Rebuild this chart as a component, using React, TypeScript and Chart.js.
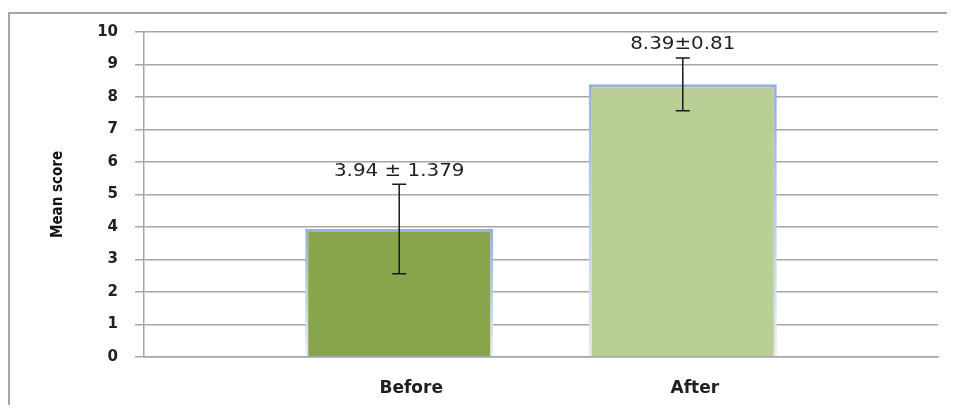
import React, { useEffect, useRef } from "react";
import { Chart, registerables } from "chart.js";

Chart.register(...registerables);

const categories = ["Before", "After"];
const meanScores = [3.94, 8.39];
const sdValues = [1.379, 0.81];
const valueLabels = ["3.94 ± 1.379", "8.39±0.81"];
const barColors = ["#89a54c", "#b9cf96"];
const yAxisTitle = "Mean score";

const errorBarPlugin = {
  id: "errorBars",
  afterDatasetsDraw(chart: any) {
    const { ctx, scales } = chart;
    const xs = scales.x;
    const ys = scales.y;
    ctx.save();
    categories.forEach((_, i) => {
      const x = xs.getPixelForValue(i + 1);
      const yTop = ys.getPixelForValue(meanScores[i] + sdValues[i]);
      const yBot = ys.getPixelForValue(meanScores[i] - sdValues[i]);
      ctx.strokeStyle = "#1a1a1a";
      ctx.lineWidth = 1.5;
      ctx.beginPath();
      ctx.moveTo(x, yTop);
      ctx.lineTo(x, yBot);
      ctx.moveTo(x - 7, yTop);
      ctx.lineTo(x + 7, yTop);
      ctx.moveTo(x - 7, yBot);
      ctx.lineTo(x + 7, yBot);
      ctx.stroke();
      ctx.save();
      ctx.translate(x, yTop - 13);
      ctx.scale(1.17, 1);
      ctx.fillStyle = "#1f1f1f";
      ctx.font = "17px 'DejaVu Sans', sans-serif";
      ctx.textAlign = "center";
      ctx.textBaseline = "middle";
      ctx.fillText(valueLabels[i], 0, 0);
      ctx.restore();
    });
    ctx.restore();
  },
};

export default function App() {
  const canvasRef = useRef<HTMLCanvasElement | null>(null);

  useEffect(() => {
    if (!canvasRef.current) return;
    const chart = new Chart(canvasRef.current, {
      type: "bar",
      data: {
        datasets: [
          {
            data: categories.map((_, i) => ({ x: i + 1, y: meanScores[i] })),
            backgroundColor: barColors,
            borderWidth: 3,
            borderSkipped: "bottom",
            borderColor: (c: any) => {
              const chart = c.chart;
              const area = chart.chartArea;
              if (!area || !c.parsed) return "#9bb5e0";
              const top = chart.scales.y.getPixelForValue(c.parsed.y);
              const g = chart.ctx.createLinearGradient(0, top, 0, area.bottom);
              g.addColorStop(0, "#96b0df");
              g.addColorStop(1, "#e4ebf6");
              return g;
            },
            categoryPercentage: 1,
            barPercentage: 0.663,
          },
        ],
      },
      options: {
        responsive: false,
        animation: false,
        layout: { padding: { top: 18, right: 17, left: 0, bottom: 0 } },
        plugins: {
          legend: { display: false },
          tooltip: { enabled: false },
        },
        scales: {
          x: {
            type: "linear",
            min: 0.1,
            max: 2.9,
            offset: false,
            grid: { display: false, drawTicks: false, tickLength: 0 },
            border: { display: true, color: "#a6a6a6", width: 1.5 },
            afterBuildTicks: (scale: any) => {
              scale.ticks = categories.map((_, i) => ({ value: i + 1 }));
            },
            afterFit: (scale: any) => {
              scale.height = 48;
            },
            ticks: {
              autoSkip: false,
              maxRotation: 0,
              padding: 21,
              labelOffset: 12,
              color: "#1f1f1f",
              font: { family: "'DejaVu Sans', sans-serif", size: 17, weight: "bold" },
              callback: (v: any) => categories[Number(v) - 1] ?? "",
            },
          },
          y: {
            min: 0,
            max: 10,
            grid: { color: "#a6a6a6", lineWidth: 1.5, tickLength: 9, drawTicks: true },
            border: { display: true, color: "#a6a6a6", width: 1.5 },
            afterFit: (scale: any) => {
              scale.width = 134;
              scale.paddingTop = 0;
              scale.paddingBottom = 0;
            },
            ticks: {
              stepSize: 1,
              padding: 17,
              color: "#1f1f1f",
              font: { family: "'DejaVu Sans', sans-serif", size: 15, weight: "bold" },
            },
            title: {
              display: true,
              text: yAxisTitle,
              color: "#111",
              padding: { top: 39, bottom: 0 },
              font: {
                family: "'DejaVu Sans Condensed', 'Liberation Sans Narrow', sans-serif",
                size: 15,
                weight: "bold",
              },
            },
          },
        },
      } as any,
      plugins: [errorBarPlugin],
    });
    return () => chart.destroy();
  }, []);

  return (
    <div
      style={{
        marginTop: 4,
        borderTop: "2px solid #a6a6a6",
        borderLeft: "2px solid #a6a6a6",
        width: 947,
        height: 393,
        boxSizing: "border-box",
      }}
    >
      <canvas ref={canvasRef} width={945} height={391} style={{ display: "block" }} />
    </div>
  );
}
